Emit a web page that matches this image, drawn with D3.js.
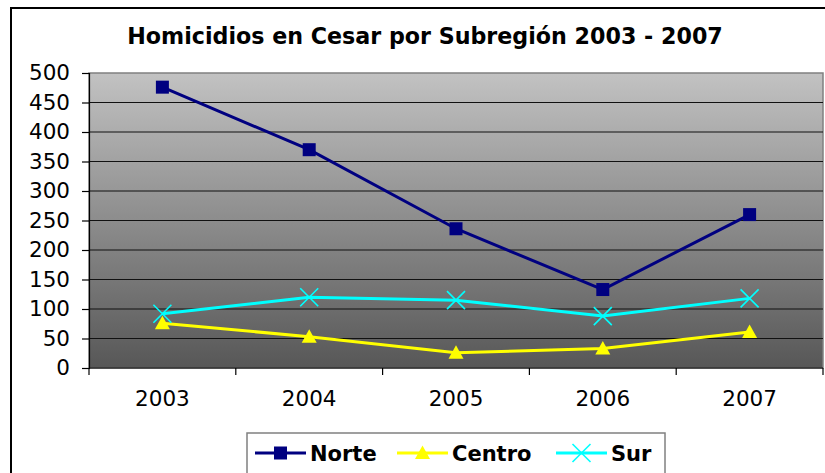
<!DOCTYPE html>
<html>
<head>
<meta charset="utf-8">
<script src="https://cdn.jsdelivr.net/npm/d3@7"></script>
<style>
  body { margin: 0; background: #fff; }
  svg { display: block; font-family: "DejaVu Sans", Verdana, sans-serif; }
</style>
</head>
<body>
<svg id="chart"></svg>
<script>
const years = ["2003", "2004", "2005", "2006", "2007"];
const norte = [476, 370, 236, 133, 260];
const centro = [76, 53, 26, 33, 61];
const sur = [92, 120, 115, 88, 118];
const yTicks = [0, 50, 100, 150, 200, 250, 300, 350, 400, 450, 500];
const title = "Homicidios en Cesar por Subregión 2003 - 2007";

const width = 825, height = 473;
const plot = { left: 89, right: 823, top: 73, bottom: 368 };

const svg = d3.select("#chart")
	.attr("width", width)
	.attr("height", height);

// outer chart frame
svg.append("rect")
	.attr("x", 11).attr("y", 8)
	.attr("width", 830).attr("height", 480)
	.attr("fill", "#fff")
	.attr("stroke", "#000")
	.attr("stroke-width", 2);

svg.append("text")
	.attr("x", 425).attr("y", 44)
	.attr("text-anchor", "middle")
	.attr("font-weight", "bold")
	.attr("font-size", 22.2)
	.text(title);

const defs = svg.append("defs");
const grad = defs.append("linearGradient")
	.attr("id", "bg").attr("x1", 0).attr("y1", 0).attr("x2", 0).attr("y2", 1);
grad.append("stop").attr("offset", "0%").attr("stop-color", "#c2c2c2");
grad.append("stop").attr("offset", "100%").attr("stop-color", "#575757");

const x = d3.scaleBand().domain(years).range([plot.left, plot.right]);
const y = d3.scaleLinear().domain([0, 500]).range([plot.bottom, plot.top]);

svg.append("rect")
	.attr("x", plot.left).attr("y", plot.top)
	.attr("width", plot.right - plot.left).attr("height", plot.bottom - plot.top)
	.attr("fill", "url(#bg)")
	.attr("stroke", "#808080")
	.attr("stroke-width", 1.5);

// gridlines
svg.selectAll(".grid")
	.data(yTicks.filter(d => d > 0 && d < 500)).enter()
	.append("line")
	.attr("class", "grid")
	.attr("x1", plot.left).attr("x2", plot.right)
	.attr("y1", d => y(d)).attr("y2", d => y(d))
	.attr("stroke", "#111")
	.attr("stroke-width", 1.2);

// y axis
const yAxis = d3.axisLeft(y).tickValues(yTicks).tickSizeOuter(0).tickSize(7).tickPadding(12);
const gy = svg.append("g")
	.attr("transform", `translate(${plot.left},0)`)
	.call(yAxis);
gy.select(".domain").attr("stroke", "#000").attr("stroke-width", 1.2);
gy.selectAll(".tick line").attr("stroke", "#000").attr("stroke-width", 1.2);
gy.selectAll("text").attr("font-size", 21.5).attr("font-family", "DejaVu Sans").attr("fill", "#000");

// x axis: ticks at band edges
const gx = svg.append("g")
	.attr("transform", `translate(0,${plot.bottom})`);
gx.append("line")
	.attr("x1", plot.left).attr("x2", plot.right)
	.attr("stroke", "#000").attr("stroke-width", 1.2);
const edges = years.map(d => x(d)).concat([plot.right]);
gx.selectAll(".xt")
	.data(edges).enter()
	.append("line")
	.attr("class", "xt")
	.attr("x1", d => d).attr("x2", d => d)
	.attr("y1", 0).attr("y2", 7)
	.attr("stroke", "#000").attr("stroke-width", 1.2);
gx.selectAll(".xl")
	.data(years).enter()
	.append("text")
	.attr("class", "xl")
	.attr("x", d => x(d) + x.bandwidth() / 2)
	.attr("y", 38)
	.attr("text-anchor", "middle")
	.attr("font-size", 21.5)
	.text(d => d);

const cx = (d, i) => x(years[i]) + x.bandwidth() / 2;
const line = d3.line().x(cx).y(d => y(d));

const series = [
	{ name: "Norte", values: norte, color: "#000080", marker: "square" },
	{ name: "Centro", values: centro, color: "#ffff00", marker: "triangle" },
	{ name: "Sur", values: sur, color: "#00ffff", marker: "cross" }
];

function drawMarker(g, type, color) {
	if (type === "square") {
		g.append("rect").attr("x", -6.5).attr("y", -6.5).attr("width", 13).attr("height", 13).attr("fill", color);
	} else if (type === "triangle") {
		g.append("path").attr("d", "M0,-7.5L7.5,6L-7.5,6Z").attr("fill", color);
	} else {
		g.append("path").attr("d", "M-9,-9L9,9M-9,9L9,-9").attr("stroke", color).attr("stroke-width", 1.6).attr("fill", "none");
	}
}

series.forEach(s => {
	svg.append("path")
		.datum(s.values)
		.attr("fill", "none")
		.attr("stroke", s.color)
		.attr("stroke-width", 3)
		.attr("d", line);
	s.values.forEach((v, i) => {
		const g = svg.append("g").attr("transform", `translate(${cx(v, i)},${y(v)})`);
		drawMarker(g, s.marker, s.color);
	});
});

// legend
const legend = svg.append("g");
legend.append("rect")
	.attr("x", 247).attr("y", 433)
	.attr("width", 418).attr("height", 60)
	.attr("fill", "#fff")
	.attr("stroke", "#808080")
	.attr("stroke-width", 1.5);
const legendX = [255, 397, 556];
series.forEach((s, i) => {
	const lx = legendX[i];
	legend.append("line")
		.attr("x1", lx).attr("x2", lx + 51)
		.attr("y1", 453).attr("y2", 453)
		.attr("stroke", s.color).attr("stroke-width", 3);
	const g = legend.append("g").attr("transform", `translate(${lx + 25.5},453)`);
	drawMarker(g, s.marker, s.color);
	legend.append("text")
		.attr("x", lx + 55).attr("y", 461)
		.attr("font-size", 21)
		.attr("font-weight", "bold")
		.text(s.name);
});
</script>
</body>
</html>
